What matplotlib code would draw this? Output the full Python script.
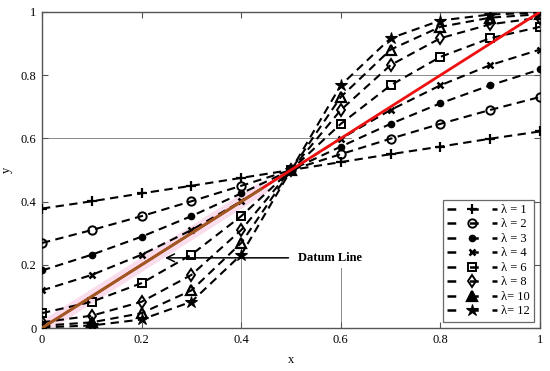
import numpy as np
import matplotlib.pyplot as plt
from matplotlib.lines import Line2D

# x positions of the markers
x_vals = [0.0, 0.1, 0.2, 0.3, 0.4, 0.5, 0.6, 0.7, 0.8, 0.9, 1.0]

# curves, one list per lambda
y_l1 = [0.378, 0.401, 0.426, 0.450, 0.475, 0.500, 0.525, 0.550, 0.574, 0.599, 0.622]
y_l2 = [0.269, 0.310, 0.354, 0.401, 0.450, 0.500, 0.550, 0.599, 0.646, 0.690, 0.731]
y_l3 = [0.182, 0.232, 0.289, 0.354, 0.426, 0.500, 0.574, 0.646, 0.711, 0.768, 0.818]
y_l4 = [0.119, 0.168, 0.232, 0.310, 0.401, 0.500, 0.599, 0.690, 0.768, 0.832, 0.881]
y_l6 = [0.047, 0.083, 0.142, 0.232, 0.354, 0.500, 0.646, 0.768, 0.858, 0.917, 0.953]
y_l8 = [0.018, 0.039, 0.083, 0.168, 0.310, 0.500, 0.690, 0.832, 0.917, 0.961, 0.982]
y_l10 = [0.007, 0.018, 0.047, 0.119, 0.269, 0.500, 0.731, 0.881, 0.953, 0.982, 0.993]
y_l12 = [0.002, 0.008, 0.027, 0.083, 0.232, 0.500, 0.768, 0.917, 0.973, 0.992, 0.998]

labels = ["λ = 1", "λ = 2", "λ = 3", "λ = 4", "λ = 6", "λ = 8", "λ= 10", "λ= 12"]

datum_x = [0.0, 1.0]
datum_y = [0.0, 1.0]

plt.rcParams["font.family"] = ["Liberation Serif", "DejaVu Serif"]

fig = plt.figure(figsize=(5.5, 3.71), dpi=100)
ax = fig.add_axes([0.0764, 0.1159, 0.9054, 0.8518])

# leftover grid segments
gcol = "#8a8a8a"
ax.plot([0.4, 0.4], [0, 0.22], color=gcol, lw=0.7, zorder=1)
ax.plot([0.6, 0.6], [0, 0.19], color=gcol, lw=0.7, zorder=1)
ax.plot([0, 0.62], [0.6, 0.6], color=gcol, lw=0.7, zorder=1)
ax.plot([0.62, 1.0], [0.8, 0.8], color=gcol, lw=0.7, zorder=1)

series = [y_l1, y_l2, y_l3, y_l4, y_l6, y_l8, y_l10, y_l12]
styles = [
    dict(marker="+", ms=7, mew=1.6, mfc="none"),
    dict(marker="o", ms=6, mew=1.4, mfc="none"),
    dict(marker="o", ms=4.5, mew=1.0, mfc="black"),
    dict(marker="x", ms=5, mew=1.8, mfc="none"),
    dict(marker="s", ms=5.5, mew=1.4, mfc="none"),
    dict(marker="d", ms=6, mew=1.4, mfc="none"),
    dict(marker="^", ms=6.5, mew=1.6, mfc="none"),
    dict(marker="*", ms=9, mew=0.8, mfc="black"),
]
legend_fill = ["none", "none", "black", "none", "none", "none", "black", "black"]

handles = []
for ys, st, lab, lf in zip(series, styles, labels, legend_fill):
    ax.plot(x_vals, ys, color="black", lw=1.5, linestyle=(0, (4, 2.6)),
            mec="black", zorder=3, **st)
    hst = dict(st)
    hst["mfc"] = lf
    handles.append(Line2D([], [], color="black", lw=1.8, linestyle=(0, (3.5, 5.5)),
                          mec="black", label=lab, **hst))

# datum line (lower part looks brownish with a pink halo)
ax.plot([0, 0.45], [0, 0.45], color="#f7cfe6", lw=9, alpha=0.7,
        solid_capstyle="butt", zorder=2)
ax.plot(datum_x, datum_y, color="#ee1111", lw=2, zorder=4)
ax.plot([0, 0.44], [0, 0.44], color="#9a5a22", lw=2, zorder=4)

# arrow pointing at the datum line
ax.annotate("", xy=(0.247, 0.222), xytext=(0.495, 0.222),
            arrowprops=dict(arrowstyle="->", color="black", lw=1.1,
                            shrinkA=0, shrinkB=0, mutation_scale=14),
            zorder=5)
ax.text(0.515, 0.222, "Datum Line", fontsize=9, fontweight="bold", va="center")

ax.set_xlim(0, 1)
ax.set_ylim(0, 1)
ax.set_xticks([0, 0.2, 0.4, 0.6, 0.8, 1])
ax.set_xticklabels(["0", "0.2", "0.4", "0.6", "0.8", "1"])
ax.set_yticks([0, 0.2, 0.4, 0.6, 0.8, 1])
ax.set_yticklabels(["0", "0.2", "0.4", "0.6", "0.8", "1"])
ax.tick_params(direction="in", top=True, right=True, labelsize=9,
               length=4, width=0.8, color="#555555", pad=4)
for sp in ax.spines.values():
    sp.set_color("#555555")
    sp.set_linewidth(1.0)

ax.set_xlabel("x", fontsize=9, labelpad=6)
ax.set_ylabel("y", fontsize=9, labelpad=6)

leg = ax.legend(handles=handles, loc="lower right", fontsize=9,
                frameon=True, fancybox=False, edgecolor="#444444",
                handlelength=4.0, labelspacing=0.2, borderpad=0.35,
                handletextpad=0.25, bbox_to_anchor=(1.0, 0.0))
leg.get_frame().set_linewidth(0.9)

fig.savefig("out.png", dpi=100)
